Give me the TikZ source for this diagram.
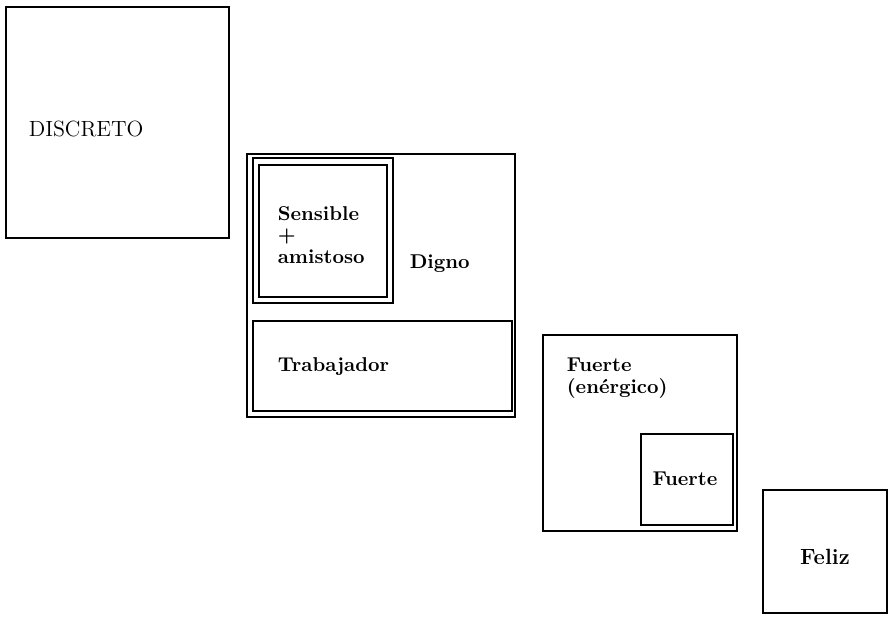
\documentclass[tikz,border=0pt]{standalone}
\usepackage{tikz}
\usetikzlibrary{positioning}

\begin{document}
\begin{tikzpicture}[x=0.5pt, y=-0.5pt, thick]
    \tikzstyle{box} = [
        draw=black,
        rectangle,
        inner sep=0pt
    ]
    \tikzstyle{word} = [
        inner sep=0pt,
        align=left,
        font=\bfseries\fontsize{10}{10.75}\selectfont
    ]

    \useasboundingbox (0,0) rectangle (889,616);

    % frames
    \node[box, minimum width=111.5pt, minimum height=115.5pt] (discreto) at (117.5,122.5) {};
    \node[box, minimum width=134pt, minimum height=131.5pt] (digno) at (381,285.5) {};
    \node[box, minimum width=70pt, minimum height=72.5pt] (sens) at (323,230.5) {};
    \node[box, minimum width=64pt, minimum height=66pt] (sensin) at (323,231) {};
    \node[box, minimum width=129.5pt, minimum height=45pt] (trab) at (382.5,366) {};
    \node[box, minimum width=97pt, minimum height=98pt] (fuerte) at (640,433) {};
    \node[box, minimum width=46pt, minimum height=45.5pt] (fuertein) at (687,479.5) {};
    \node[box, minimum width=62pt, minimum height=61.5pt] (feliz) at (825,551.5) {};

    % labels
    \node[word, anchor=west, font=\fontsize{11}{12}\selectfont] (t1) at (28,129) {DISCRETO};
    \node[word, anchor=west] (t2) at (277,235) {Sensible\\+\\amistoso};
    \node[word, anchor=west] (t3) at (409,264) {Digno};
    \node[word, anchor=west] (t4) at (277,367) {Trabajador};
    \node[word, anchor=west] (t5) at (566,378) {Fuerte\\(enérgico)};
    \node[word] (t6) at (685,479) {Fuerte};
    \node[word, font=\bfseries\fontsize{11}{12}\selectfont] (t7) at (825,557) {Feliz};
\end{tikzpicture}
\end{document}
